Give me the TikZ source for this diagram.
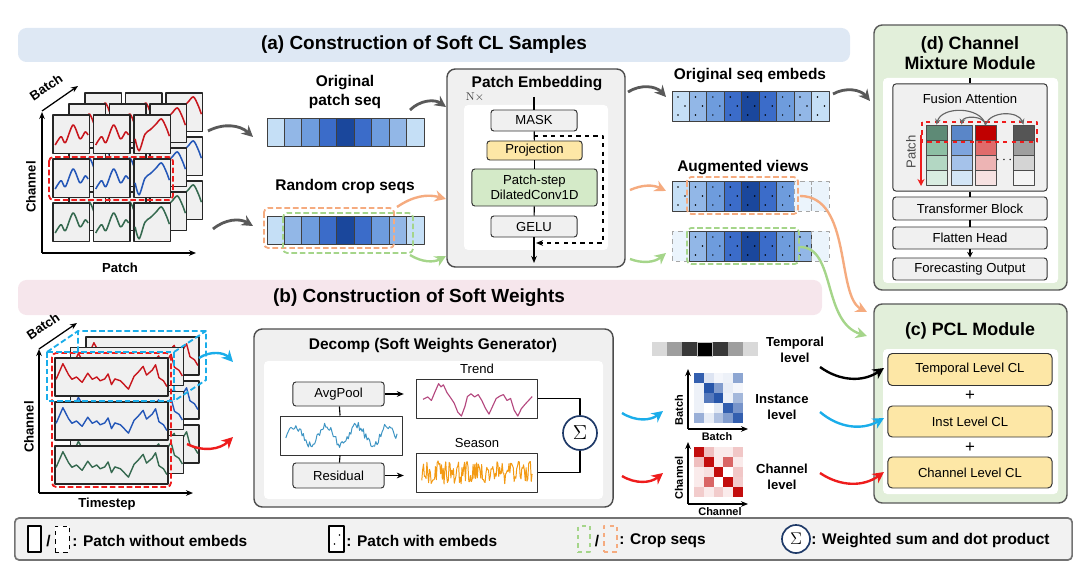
\documentclass[tikz,border=0pt]{standalone}
\usepackage[no-math]{fontspec}
\setmainfont{Liberation Sans}
\usetikzlibrary{arrows.meta,positioning,calc}

\definecolor{bannerA}{HTML}{DEE8F4}
\definecolor{bannerB}{HTML}{F6E6EC}
\definecolor{panelG}{HTML}{E2EFDA}
\definecolor{boxG}{HTML}{F0F0F0}
\definecolor{projY}{HTML}{FDE7A6}
\definecolor{convG}{HTML}{D4EAC8}
\definecolor{sq1}{HTML}{C5DFF6}
\definecolor{sq2}{HTML}{92B7E7}
\definecolor{sq3}{HTML}{6E9CDD}
\definecolor{sq4}{HTML}{3B6CC9}
\definecolor{sq5}{HTML}{1A479C}
\definecolor{arrG}{HTML}{595959}
\definecolor{cyanA}{HTML}{1AADEA}
\definecolor{redA}{HTML}{EE1C1C}
\definecolor{orgA}{HTML}{F5AB7F}
\definecolor{grnA}{HTML}{A5D58A}
\definecolor{serR}{HTML}{C8161D}
\definecolor{serB}{HTML}{2457B8}
\definecolor{serG}{HTML}{35694F}
\definecolor{trendC}{HTML}{B4477E}
\definecolor{seasC}{HTML}{F39A13}
\definecolor{inC}{HTML}{3E95C4}
\definecolor{sigC}{HTML}{1F3A68}
\definecolor{matB}{HTML}{1C4DA6}
\definecolor{matR}{HTML}{C00000}
\definecolor{fg1}{HTML}{5E8A76}\definecolor{fg2}{HTML}{8DBFA4}\definecolor{fg3}{HTML}{B3D7C3}\definecolor{fg4}{HTML}{D9ECE1}
\definecolor{fb1}{HTML}{5A86C8}\definecolor{fb2}{HTML}{7EA4DD}\definecolor{fb3}{HTML}{A5C2EA}\definecolor{fb4}{HTML}{D3E5F6}
\definecolor{fr1}{HTML}{C00000}\definecolor{fr2}{HTML}{E06B6B}\definecolor{fr3}{HTML}{EDB4B4}\definecolor{fr4}{HTML}{F6E1E1}
\definecolor{fk1}{HTML}{555555}\definecolor{fk2}{HTML}{9E9E9E}\definecolor{fk3}{HTML}{D4D4D4}\definecolor{fk4}{HTML}{F5F5F5}

% small signal shapes, drawn in a unit cell
\newcommand{\waveA}[1]{\draw[draw=#1, line width=1.1pt] plot[smooth, tension=0.5] coordinates {(0.06,0.78) (0.22,0.56) (0.34,0.72) (0.55,0.26) (0.74,0.62) (0.88,0.44) (0.96,0.52)};}
\newcommand{\waveB}[1]{\draw[draw=#1, line width=1.1pt] plot[smooth, tension=0.5] coordinates {(0.03,0.62) (0.14,0.93) (0.3,0.5) (0.45,0.38) (0.6,0.24) (0.75,0.1) (0.88,0.32) (0.97,0.55)};}
\newcommand{\series}[1]{\draw[draw=#1, line width=1pt] (0.01,0.56) -- (0.07,0.15) -- (0.12,0.44) -- (0.15,0.56) -- (0.19,0.5) -- (0.24,0.64) -- (0.29,0.4) -- (0.33,0.56) -- (0.37,0.5) -- (0.4,0.6) -- (0.44,0.55) -- (0.47,0.42) -- (0.5,0.7) -- (0.53,0.55) -- (0.58,0.6) -- (0.65,0.82) -- (0.7,0.48) -- (0.74,0.36) -- (0.78,0.22) -- (0.81,0.45) -- (0.86,0.32) -- (0.89,0.18) -- (0.92,0.52) -- (0.96,0.6) -- (0.99,0.75);}

\begin{document}
\begin{tikzpicture}[x=0.025cm, y=-0.025cm, line join=round,
    ttl/.style={font=\fontsize{13.5}{16}\selectfont\bfseries},
    sttl/.style={font=\fontsize{12.7}{14.4}\selectfont\bfseries, align=center},
    lbl/.style={font=\fontsize{11}{13.5}\selectfont\bfseries, align=center},
    lvl/.style={font=\fontsize{9.3}{11.4}\selectfont\bfseries, align=center},
    axl/.style={font=\fontsize{9.3}{11}\selectfont\bfseries, inner sep=1pt},
    mxl/.style={font=\fontsize{7.8}{9}\selectfont\bfseries, inner sep=1pt},
    lgt/.style={font=\fontsize{11}{13}\selectfont\bfseries, inner sep=0pt},
    blk/.style={draw=black!80, fill=boxG, rounded corners=2pt, line width=0.7pt,
                inner sep=1pt, align=center, font=\fontsize{9.3}{11}\selectfont},
    panel/.style={draw=black!65, line width=1pt, rounded corners=6pt, inner sep=0pt},
    pcl/.style={blk, fill=projY, rounded corners=3pt, minimum width=4.1cm, minimum height=0.8cm},
    fcell/.style={draw=black!70, line width=0.6pt, minimum width=0.525cm, minimum height=0.375cm, inner sep=0pt},
    cellg/.style={draw=black!85, fill=black!6, line width=0.9pt},
    seqc/.style={draw=black!75, line width=0.6pt},
    ghost/.style={draw=black!35, dashed, fill=sq1!35, line width=0.6pt},
    crop/.style={dashed, line width=1.3pt, rounded corners=3pt, dash pattern=on 4pt off 2pt},
    ax/.style={-{Stealth[length=5pt,width=4pt]}, line width=0.9pt},
    garr/.style={-{Stealth[length=8pt,width=8pt]}, line width=2pt, draw=arrG},
    carr/.style={-{Stealth[length=8pt,width=8pt]}, line width=1.7pt},
    ]
\useasboundingbox (0,0) rectangle (1080,577);
\pgfmathsetseed{11}

% banners
\fill[bannerA, rounded corners=6pt] (18,28) rectangle (850,62);
\node[ttl] (ttla) at (424,45) {(a) Construction of Soft CL Samples};
\fill[bannerB, rounded corners=6pt] (18,280) rectangle (822,315);
\node[ttl] (ttlb) at (419,298) {(b) Construction of Soft Weights};

% ---- (a) patch stack
\foreach \L in {2,1,0} {
  \foreach \ry/\cl in {0/serR,1/serB,2/serG} {
    \foreach \cx in {0,1,2} {
      \pgfmathsetmacro\xx{53+16*\L+40.5*\cx}
      \pgfmathsetmacro\yy{115-11*\L+44*\ry}
      \draw[cellg] (\xx,\yy) rectangle ++(36.5,38.5);
      \begin{scope}[shift={(\xx,\yy)}, xscale=36.5, yscale=38.5]
        \ifnum\cx=2 \waveB{\cl}\else\waveA{\cl}\fi
      \end{scope}
    }}}
\draw[crop, redA] (49,157) rectangle (173,200);
\coordinate (aoA) at (42,253);
\draw[ax] (aoA) -- (42,112);
\draw[ax] (aoA) -- (196,253);
\draw[ax] (42,111) -- (78,86);
\node[axl, rotate=90] (chA) at (31,187) {Channel};
\node[axl] (ptA) at (120,268) {Patch};
\node[axl, rotate=34, inner sep=0pt] (btA) at (46,87) {Batch};

% ---- (a) patch sequences
\node[lbl] (olab) at (345,92) {Original\\patch seq};
\foreach \cl [count=\i from 0] in {sq1,sq2,sq3,sq4,sq5,sq4,sq3,sq2,sq1}
  \draw[seqc, fill=\cl] ({267+17.44*\i},118) rectangle ++(17.44,28);
\node[lbl] (rlab) at (345,187) {Random crop seqs};
\foreach \cl [count=\i from 0] in {sq1,sq2,sq3,sq4,sq5,sq4,sq3,sq2,sq1}
  \draw[seqc, fill=\cl] ({267+17.44*\i},216) rectangle ++(17.44,28);
\draw[crop, orgA] (264,208) rectangle (394,248);
\draw[crop, grnA] (283,213) rectangle (413,253);

\coordinate (stk1) at (208,131);  \coordinate (oseqW) at (253,137);
\coordinate (stk2) at (213,229);  \coordinate (rseqW) at (253,226);
\draw[garr] (stk1) to[bend left=35] (oseqW);
\draw[garr] (stk2) to[bend left=35] (rseqW);

% ---- (a) patch embedding
\node[panel, fill=boxG, draw=black!70, minimum width=4.45cm, minimum height=4.95cm] (pe) at (536,168) {};
\fill[white, rounded corners=3pt] (464,105) rectangle (608,250);
\node[lbl] (petl) at (537,84) {Patch Embedding};
\node[inner sep=0pt, text=black!75, font=\fontsize{8.5}{10}\selectfont] (nx) at (475,97) {$\mathrm{N}{\times}$};
\node[blk, minimum width=2.15cm, minimum height=0.525cm] (mask) at (534,120.5) {MASK};
\node[blk, fill=projY, minimum width=2.375cm, minimum height=0.475cm] (proj) at (534.5,150.5) {Projection};
\node[blk, fill=convG, minimum width=3.125cm, minimum height=0.925cm] (conv) at (534.5,187.5) {Patch-step\\DilatedConv1D};
\node[blk, minimum width=2.15cm, minimum height=0.525cm] (gelu) at (534,226.5) {GELU};
\coordinate (petop) at (534,97);
\coordinate (pebot) at (534,263);
\draw[line width=0.8pt] (petop) -- (mask);
\draw[line width=0.8pt] (mask) -- (proj);
\draw[line width=0.8pt] (proj) -- (conv);
\draw[line width=0.8pt] (conv) -- (gelu);
\draw[line width=0.8pt, -{Stealth[length=5pt,width=4pt]}] (gelu) -- (pebot);
\coordinate (skipA) at ($(mask.south)!0.5!(proj.north)$);
\coordinate (skipR) at (603,243);
\coordinate (skipE) at (536,243);
\draw[dashed, line width=0.9pt, -{Stealth[length=5pt,width=4pt]}] (skipA) -| (skipR) -- (skipE);

\coordinate (rseqO) at (397,207); \coordinate (peO) at (446,199);
\coordinate (rseqG) at (410,255); \coordinate (peG) at (446,256);
\coordinate (oseqN) at (410,110); \coordinate (peN) at (446,107);
\draw[garr] (oseqN) to[bend left=40] (peN);
\draw[carr, orgA] (rseqO) to[bend left=25] (peO);
\draw[carr, grnA] (rseqG) to[bend right=30] (peG);

% ---- (a) embeddings
\node[lbl] (oelab) at (750,76) {Original seq embeds};
\foreach \cl [count=\i from 0] in {sq1,sq2,sq3,sq4,sq5,sq4,sq3,sq2,sq1} {
  \draw[seqc, fill=\cl] ({672+17.44*\i},91) rectangle ++(17.44,30);
  \fill ({678+17.44*\i},97) circle (0.6pt);
  \fill ({685+17.44*\i},106) circle (0.6pt);
  \fill ({678+17.44*\i},115) circle (0.6pt);
}
\node[lbl] (avlab) at (743,168) {Augmented views};
\foreach \cl/\kd [count=\i from 0] in {sq1/1,sq2/1,sq3/1,sq4/1,sq5/1,sq4/1,sq3/1,sq2/0,sq1/0} {
  \ifnum\kd=1
    \draw[seqc, fill=\cl] ({672+17.44*\i},181) rectangle ++(17.44,30);
    \fill ({678+17.44*\i},187) circle (0.6pt);
    \fill ({685+17.44*\i},196) circle (0.6pt);
    \fill ({678+17.44*\i},205) circle (0.6pt);
  \else
    \draw[ghost] ({672+17.44*\i},181) rectangle ++(17.44,30);
  \fi
}
\foreach \cl/\kd [count=\i from 0] in {sq1/0,sq2/1,sq3/1,sq4/1,sq5/1,sq4/1,sq3/1,sq2/1,sq1/0} {
  \ifnum\kd=1
    \draw[seqc, fill=\cl] ({672+17.44*\i},231) rectangle ++(17.44,30);
    \fill ({678+17.44*\i},237) circle (0.6pt);
    \fill ({685+17.44*\i},246) circle (0.6pt);
    \fill ({678+17.44*\i},255) circle (0.6pt);
  \else
    \draw[ghost] ({672+17.44*\i},231) rectangle ++(17.44,30);
  \fi
}
\draw[crop, orgA] (687,177) rectangle (798,214);
\draw[crop, grnA] (687,228) rectangle (799,264);

\coordinate (peNE) at (628,92);  \coordinate (oembW) at (666,97);
\coordinate (peO2) at (630,190); \coordinate (aug1W) at (666,191);
\coordinate (peG2) at (630,259); \coordinate (aug2W) at (666,253);
\draw[garr] (peNE) to[bend left=40] (oembW);
\draw[carr, orgA] (peO2) to[bend left=25] (aug1W);
\draw[carr, grnA] (peG2) to[bend right=30] (aug2W);

% ---- (d) channel mixture module
\node[panel, fill=panelG, minimum width=4.825cm, minimum height=6.625cm] (dmod) at (970.5,157.5) {};
\fill[white, rounded corners=3pt] (883,78) rectangle (1058,283);
\node[sttl] (dttl) at (970,53) {(d) Channel\\Mixture Module};
\node[blk, minimum width=3.85cm, minimum height=2.675cm] (fusion) at (970,137.5) {};
\node[inner sep=0pt, font=\fontsize{9.3}{11}\selectfont] (fulab) at (970,99) {Fusion Attention};
\foreach \fx/\fa/\fb/\fc/\fd [count=\kk] in {926/fg1/fg2/fg3/fg4, 951/fb1/fb2/fb3/fb4, 975/fr1/fr2/fr3/fr4, 1013/fk1/fk2/fk3/fk4}
  \foreach \fcl [count=\ry from 0] in {\fa,\fb,\fc,\fd}
    \node[fcell, fill=\fcl] (f\kk\ry) at ({\fx+10.5},{132.5+15*\ry}) {};
\node[inner sep=0pt] (fdots) at (1004,160) {$\cdots$};
\draw[redA, dashed, line width=1.1pt] (922,122) rectangle (1037,142);
\draw[black!60, line width=0.8pt, -{Stealth[length=4pt,width=4pt]}] (f30.north) to[bend right=75] (f10.north);
\draw[black!60, line width=0.8pt, -{Stealth[length=4pt,width=4pt]}] (f30.north) to[bend right=80] (f20.north);
\draw[black!60, line width=0.8pt, -{Stealth[length=4pt,width=4pt]}] (f30.north) to[bend left=70] (f40.north);
\coordinate (pa1) at (921,135); \coordinate (pa2) at (921,186);
\draw[redA, line width=1.2pt, -{Stealth[length=5pt,width=5pt]}] (pa1) -- (pa2);
\node[rotate=90, inner sep=0pt, text=black!70, font=\fontsize{9.3}{11}\selectfont] (palab) at (911,152) {Patch};
\node[blk, minimum width=3.85cm, minimum height=0.575cm] (tblock) at (970,208.5) {Transformer Block};
\node[blk, minimum width=3.85cm, minimum height=0.55cm] (flat) at (970,238) {Flatten Head};
\node[blk, minimum width=3.85cm, minimum height=0.55cm] (fout) at (970,269) {Forecasting Output};
\coordinate (dtop) at (970,78);
\draw[line width=0.8pt] (dtop) -- (fusion);
\draw[line width=0.8pt] (fusion) -- (tblock);
\draw[line width=0.8pt] (tblock) -- (flat);
\draw[line width=0.8pt, -{Stealth[length=4pt,width=4pt]}] (flat) -- (fout);
\coordinate (oembE) at (833,94); \coordinate (dW) at (870,101);
\draw[garr] (oembE) to[bend left=40] (dW);

% ---- (c) PCL module
\node[panel, fill=panelG, minimum width=4.825cm, minimum height=4.975cm] (cmod) at (970.5,403.5) {};
\fill[white, rounded corners=3pt] (883,349) rectangle (1058,494);
\node[sttl] (cttl) at (970,331) {(c) PCL Module};
\node[pcl] (tcl) at (970,369.5) {Temporal Level CL};
\node[pcl, minimum height=0.775cm] (icl) at (970,421.5) {Inst Level CL};
\node[pcl, minimum height=0.775cm] (ccl) at (970,472.5) {Channel Level CL};
\node[font=\fontsize{12}{12}\selectfont, inner sep=0pt] (plus1) at (970,396) {+};
\node[font=\fontsize{12}{12}\selectfont, inner sep=0pt] (plus2) at (970,448) {+};

\coordinate (aug1E) at (800,196); \coordinate (cO) at (867,312);
\coordinate (aug2E) at (800,247); \coordinate (cG) at (867,336);
\draw[carr, orgA] (aug1E) .. controls (852,196) and (836,296) .. (cO);
\draw[carr, grnA] (aug2E) .. controls (836,247) and (822,322) .. (cG);

% ---- (b) time-series stack
\foreach \L in {2,1,0} {
  \foreach \ry/\cl in {0/serR,1/serB,2/serG} {
    \pgfmathsetmacro\xx{55+15.5*\L}
    \pgfmathsetmacro\yy{358-10.5*\L+44*\ry}
    \draw[cellg] (\xx,\yy) rectangle ++(113,38);
    \begin{scope}[shift={(\xx,\yy)}, xscale=113, yscale=38]
      \series{\cl}
    \end{scope}
  }}
\draw[crop, redA] (52,353) rectangle (171,487);
\draw[cyanA, line width=1.3pt, dash pattern=on 4pt off 2pt] (47,352) rectangle (174,401);
\draw[cyanA, line width=1.3pt, dash pattern=on 4pt off 2pt] (78,352) -- (78,331) -- (206,331) -- (206,380) -- (174,401);
\draw[cyanA, line width=1.3pt, dash pattern=on 4pt off 2pt] (47,352) -- (78,331);
\draw[cyanA, line width=1.3pt, dash pattern=on 4pt off 2pt] (174,352) -- (206,331);
\coordinate (aoB) at (39,493);
\draw[ax] (aoB) -- (39,349);
\draw[ax] (aoB) -- (193,493);
\draw[ax] (39,349) -- (77,323);
\node[axl, rotate=90] (chB) at (29,427) {Channel};
\node[axl] (tsB) at (107,504) {Timestep};
\node[axl, rotate=34, inner sep=0pt] (btB) at (43,326) {Batch};

\coordinate (stkC) at (199,358); \coordinate (decC) at (233,362);
\coordinate (stkR) at (187,444); \coordinate (decR) at (233,437);
\draw[carr, cyanA] (stkC) to[bend left=40] (decC);
\draw[carr, redA] (stkR) to[bend right=35] (decR);

% ---- (b) decomposition
\node[panel, fill=boxG, draw=black!70, minimum width=8.975cm, minimum height=4.45cm] (decomp) at (433.5,418) {};
\fill[white, rounded corners=3pt] (264,361) rectangle (603,499);
\node[lbl] (dclab) at (433,346) {Decomp (Soft Weights Generator)};
\node[blk, minimum width=2.275cm, minimum height=0.6cm] (avgp) at (338.5,394) {AvgPool};
\node[blk, minimum width=2.275cm, minimum height=0.625cm] (resid) at (338.5,475.5) {Residual};
\node[draw=black!80, fill=white, line width=0.7pt, minimum width=3.025cm, minimum height=0.975cm, inner sep=0pt] (inbox) at (341.5,435.5) {};
\begin{scope}[shift={(281,416)}, xscale=121, yscale=39]
  \draw[inC, line width=0.7pt] plot[domain=0.04:0.96, samples=90, variable=\t] (\t, {0.5-0.25*sin((\t-0.05)*1400)+0.1*rand});
\end{scope}
\node[inner sep=0pt, font=\fontsize{9.3}{11}\selectfont] (trlab) at (477,369) {Trend};
\node[draw=black!80, fill=white, line width=0.7pt, minimum width=3cm, minimum height=0.975cm, inner sep=0pt] (trendbox) at (477,398.5) {};
\begin{scope}[shift={(417,379)}, xscale=120, yscale=39]
  \draw[trendC, line width=0.8pt] (0.05,0.52) -- (0.09,0.46) -- (0.12,0.55) -- (0.15,0.33) -- (0.18,0.12) -- (0.2,0.2) -- (0.22,0.15) -- (0.25,0.35) -- (0.28,0.48) -- (0.31,0.62) -- (0.34,0.85) -- (0.37,0.95) -- (0.4,0.7) -- (0.42,0.45) -- (0.45,0.38) -- (0.48,0.46) -- (0.51,0.4) -- (0.54,0.55) -- (0.57,0.75) -- (0.6,0.9) -- (0.63,0.7) -- (0.66,0.5) -- (0.69,0.44) -- (0.72,0.4) -- (0.75,0.55) -- (0.78,0.5) -- (0.81,0.8) -- (0.84,0.95) -- (0.87,0.76) -- (0.9,0.65) -- (0.93,0.55) -- (0.96,0.45);
\end{scope}
\node[inner sep=0pt, font=\fontsize{9.3}{11}\selectfont] (selab) at (477,443) {Season};
\node[draw=black!80, fill=white, line width=0.7pt, minimum width=3cm, minimum height=0.975cm, inner sep=0pt] (seasbox) at (477,472.5) {};
\begin{scope}[shift={(417,453)}, xscale=120, yscale=39]
  \draw[seasC, line width=0.7pt] plot[domain=0.04:0.96, samples=130, variable=\t] (\t, {0.5+0.3*rand});
\end{scope}
\node[circle, draw=sigC, fill=white, line width=1.2pt, minimum size=0.85cm, inner sep=0pt] (sig) at (580,433) {\fontsize{15}{15}\selectfont$\Sigma$};
\draw[line width=0.8pt] (avgp) -- (inbox);
\draw[line width=0.8pt] (inbox) -- (resid);
\draw[line width=0.8pt, -{Stealth[length=5pt,width=4pt]}, shorten >=9pt] (avgp) -- (trendbox.west |- avgp);
\draw[line width=0.8pt, -{Stealth[length=5pt,width=4pt]}, shorten >=9pt] (resid) -- (seasbox.west |- resid);
\draw[line width=0.8pt] (trendbox) -| (sig);
\draw[line width=0.8pt] (seasbox) -| (sig);

% ---- (b) soft weights
\foreach \cl [count=\i from 0] in {black!15,black!38,black!78,black,black!78,black!38,black!15}
  \fill[fill=\cl] ({652+15.1*\i},342) rectangle ++(15.1,14);
\draw[black!25, line width=0.6pt] (697.3,342) rectangle ++(15.1,14);
\coordinate (tbar) at (705,349);
\node[lvl] (tlev) at (795,350) {Temporal\\level};
\node[lvl] (ilev) at (782,407) {Instance\\level};
\node[lvl] (clev) at (782,477) {Channel\\level};

\foreach \row [count=\ry from 0] in {{90,15,5,8,50},{8,95,55,10,5},{8,75,95,8,40},{8,0,12,90,60},{45,10,35,55,90}}
  \foreach \v [count=\cx from 0] in \row
    \fill[fill=matB!\v!white] ({694+9.8*\cx},{373+10*\ry}) rectangle ++(9.8,10);
\foreach \row [count=\ry from 0] in {{95,25,8,8,22},{25,95,8,60,8},{8,12,95,0,22},{8,60,0,95,20},{20,8,20,8,95}}
  \foreach \v [count=\cx from 0] in \row
    \fill[fill=matR!\v!white] ({694+9.8*\cx},{447+10*\ry}) rectangle ++(9.8,10);
\coordinate (bmO) at (688,429);
\draw[ax, line width=0.8pt] (bmO) -- (688,369);
\draw[ax, line width=0.8pt] (bmO) -- (748,429);
\node[mxl] (bmx) at (717,437) {Batch};
\node[mxl, rotate=90] (bmy) at (679,410) {Batch};
\coordinate (cmO) at (688,504);
\draw[ax, line width=0.8pt] (cmO) -- (688,442);
\draw[ax, line width=0.8pt] (cmO) -- (748,504);
\node[mxl] (cmx) at (720,512) {Channel};
\node[mxl, rotate=90] (cmy) at (679,478) {Channel};

\coordinate (decE1) at (622,413); \coordinate (bmW) at (663,411);
\coordinate (decE2) at (622,476); \coordinate (cmW) at (663,473);
\draw[carr, cyanA] (decE1) to[bend right=35] (bmW);
\draw[carr, redA] (decE2) to[bend right=35] (cmW);

\coordinate (tlevE) at (820,367); \coordinate (tclW) at (884,368);
\coordinate (ilevE) at (820,412); \coordinate (iclW) at (884,418);
\coordinate (clevE) at (820,473); \coordinate (cclW) at (884,472);
\draw[carr, black] (tlevE) to[bend right=35] (tclW);
\draw[carr, cyanA] (ilevE) to[bend right=35] (iclW);
\draw[carr, redA] (clevE) to[bend right=35] (cclW);

% ---- legend
\node[draw=black!55, fill=black!5, line width=1.2pt, rounded corners=3pt, minimum width=26.425cm, minimum height=1.05cm, inner sep=0pt] (legend) at (543.5,539) {};
\node[draw, fill=white, line width=0.8pt, minimum width=0.325cm, minimum height=0.65cm, inner sep=0pt] (lg1) at (34.5,539) {};
\node[lgt] (lgs1) at (48.5,541) {/};
\node[draw, dashed, fill=white, line width=0.7pt, minimum width=0.35cm, minimum height=0.65cm, inner sep=0pt] (lg2) at (62,539) {};
\node[lgt, anchor=west] (lgt1) at (72,541) {: Patch without embeds};
\node[draw, fill=white, line width=0.8pt, minimum width=0.375cm, minimum height=0.65cm, inner sep=0pt] (lg3) at (336.5,539) {};
\fill ($(lg3.center)+(3,-4)$) circle (0.6pt);
\fill ($(lg3.center)+(-2,5)$) circle (0.6pt);
\node[lgt, anchor=west] (lgt2) at (346,541) {: Patch with embeds};
\node[draw=grnA, dashed, line width=0.9pt, minimum width=0.3cm, minimum height=0.65cm, inner sep=0pt] (lg4) at (584,539) {};
\node[lgt] (lgs2) at (597,541) {/};
\node[draw=orgA, dashed, line width=0.9pt, minimum width=0.325cm, minimum height=0.65cm, inner sep=0pt] (lg5) at (610.5,539) {};
\node[lgt, anchor=west] (lgt3) at (619,541) {: Crop seqs};
\node[circle, draw=sigC, fill=white, line width=1.2pt, minimum size=0.7cm, inner sep=0pt] (lg6) at (796,539) {\fontsize{13}{13}\selectfont$\Sigma$};
\node[lgt, anchor=west] (lgt4) at (811,541) {: Weighted sum and dot product};
\end{tikzpicture}
\end{document}
